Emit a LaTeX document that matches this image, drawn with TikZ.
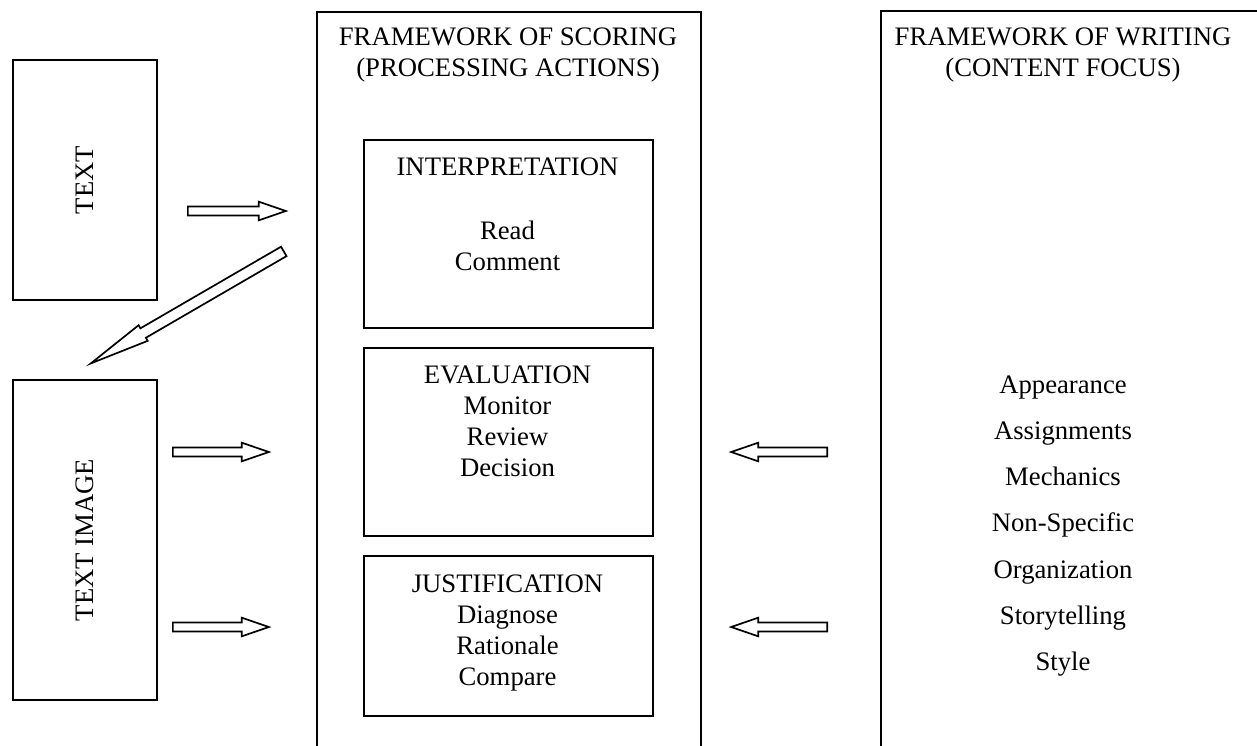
\documentclass[tikz,border=0pt]{standalone}
\usepackage{fontspec}
\setmainfont{Liberation Serif}
\usetikzlibrary{shapes.arrows,calc}
\begin{document}
\begin{tikzpicture}[x=1pt,y=-1pt,
  frame/.style={draw, line width=2.2pt, inner sep=0, anchor=north west},
  lbl/.style={font=\fontsize{26.7}{31}\selectfont, inner sep=0, anchor=base},
  blockarrow/.style={single arrow, draw, line width=1.7pt, inner sep=3.7pt,
    single arrow head extend=4.8pt, single arrow tip angle=38,
    minimum height=#1, sloped, allow upside down, pos=0, anchor=tail},
  longarrow/.style={single arrow, draw, line width=1.7pt, inner sep=4.6pt,
    single arrow head extend=3.6pt, single arrow tip angle=17,
    minimum height=#1, sloped, allow upside down, pos=0, anchor=tail}]
\useasboundingbox (0,0) rectangle (1257,745);
\clip (0,0) rectangle (1257,745);

% source boxes on the left
\node[frame, minimum width=144pt, minimum height=240pt] (txt) at (12,59) {};
\node[lbl, anchor=center, rotate=90] (txtl) at (txt.center) {TEXT};
\node[frame, minimum width=144pt, minimum height=320pt] (img) at (12,379) {};
\node[lbl, anchor=center, rotate=90] (imgl) at (img.center) {TEXT IMAGE};

% scoring framework
\node[frame, minimum width=384pt, minimum height=760pt] (score) at (316,11) {};
\node[lbl] (sh1) at (508,45) {FRAMEWORK OF SCORING};
\node[lbl] (sh2) at (508,76) {(PROCESSING ACTIONS)};

\node[frame, minimum width=289pt, minimum height=188pt] (interp) at (363,139) {};
\node[lbl] (i1) at (507.5,175) {INTERPRETATION};
\node[lbl] (i2) at (507.5,239) {Read};
\node[lbl] (i3) at (507.5,270) {Comment};

\node[frame, minimum width=289pt, minimum height=188pt] (eval) at (363,347) {};
\node[lbl] (e1) at (507.5,383) {EVALUATION};
\node[lbl] (e2) at (507.5,414) {Monitor};
\node[lbl] (e3) at (507.5,445) {Review};
\node[lbl] (e4) at (507.5,476) {Decision};

\node[frame, minimum width=289pt, minimum height=160pt] (just) at (363,555) {};
\node[lbl] (j1) at (507.5,592) {JUSTIFICATION};
\node[lbl] (j2) at (507.5,623) {Diagnose};
\node[lbl] (j3) at (507.5,654) {Rationale};
\node[lbl] (j4) at (507.5,685) {Compare};

% writing framework
\node[frame, minimum width=380pt, minimum height=760pt] (write) at (880,10) {};
\node[lbl] (wh1) at (1063,45) {FRAMEWORK OF WRITING};
\node[lbl] (wh2) at (1063,76) {(CONTENT FOCUS)};
\foreach \w [count=\i] in {Appearance,Assignments,Mechanics,Non-Specific,Organization,Storytelling,Style}
  \node[lbl] (w\i) at (1063,347+46.2*\i) {\w};

% arrow end points
\coordinate (a1s) at (187,211);  \coordinate (a1e) at (285,211);
\coordinate (a2s) at (284.5,251); \coordinate (a2e) at (91.5,363);
\coordinate (a3s) at (172,452);  \coordinate (a3e) at (268,452);
\coordinate (a4s) at (172,627);  \coordinate (a4e) at (268,627);
\coordinate (a5s) at (828,452);  \coordinate (a5e) at (732,452);
\coordinate (a6s) at (828,627);  \coordinate (a6e) at (732,627);

% block arrows
\foreach \a in {a1,a3,a4,a5,a6}
  \path let \p1=($(\a e)-(\a s)$), \n1={veclen(\x1,\y1)} in
    (\a s) -- node[blockarrow=\n1] (\a) {} (\a e);
\path let \p1=($(a2e)-(a2s)$), \n1={veclen(\x1,\y1)} in
  (a2s) -- node[longarrow=\n1] (a2) {} (a2e);
\end{tikzpicture}
\end{document}
